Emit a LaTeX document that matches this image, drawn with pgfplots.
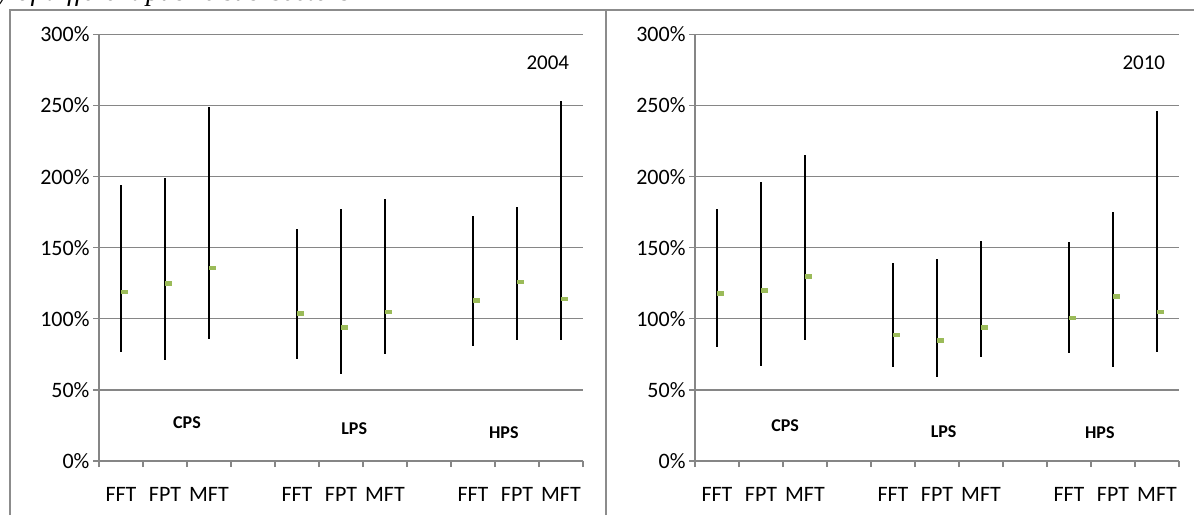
\documentclass[border=0pt]{standalone}
\usepackage{fontspec}
\setmainfont{Carlito}
\newfontfamily\captionfont{Liberation Serif}
\usepackage{pgfplots}
\pgfplotsset{compat=1.18}
\usepackage{pgfplotstable}
\definecolor{gridgray}{HTML}{868686}
\definecolor{framegray}{HTML}{8C8C8C}
\definecolor{xlgreen}{HTML}{9BBB59}

% columns: category position, low, high, mean
\pgfplotstableread{
x lo hi mid
0 77 194 119
1 71 199 125
2 86 249 136
4 72 163 104
5 61 177 94
6 75 184 105
8 81 172 113
9 85 179 126
10 85 253 114
}\dataA

\pgfplotstableread{
x lo hi mid
0 80 177 118
1 67 196 120
2 85 215 130
4 66 139 89
5 59 142 85
6 73 155 94
8 76 154 101
9 66 175 116
10 77 246 105
}\dataB

\newcommand{\tickfont}{\fontsize{22}{22}\selectfont}
\newcommand{\grpfont}{\bfseries\fontsize{18}{18}\selectfont}

\pgfplotsset{myaxis/.style={
  scale only axis, width=484pt, height=426.5pt,
  anchor=south west,
  xmin=-0.5, xmax=10.5, ymin=0, ymax=300,
  axis x line=bottom, axis y line=left,
  axis line style={gridgray, line width=1.2pt, -},
  ytick={0,50,...,300},
  yticklabels={0\%,50\%,100\%,150\%,200\%,250\%,300\%},
  ymajorgrids, grid style={gridgray, line width=1.2pt},
  xtick={-0.5,0.5,...,10.5}, xticklabels={},
  extra x ticks={0,1,2,4,5,6,8,9,10},
  extra x tick labels={FFT,FPT,MFT,FFT,FPT,MFT,FFT,FPT,MFT},
  extra x tick style={major tick length=0pt,
     xticklabel style={anchor=base, yshift=-40pt, font=\tickfont}},
  tick align=outside, major tick length=6pt,
  tick style={gridgray, line width=1.2pt},
  every tick label/.append style={font=\tickfont, text=black},
  yticklabel style={font=\tickfont, text=black},
  xticklabel style={font=\tickfont, text=black},
  clip=false,
}}

\newcommand{\rangeplots}[1]{%
  \addplot[only marks, mark=square*, mark size=1.9pt, color=xlgreen,
     mark options={draw=none, fill=xlgreen, xscale=1.6, yscale=0.9, xshift=2pt},
     error bars/.cd, y dir=both, y explicit, error mark=none,
     error bar style={draw=black, line width=2pt}]
     table[x=x, y=mid,
       y error plus expr=\thisrow{hi}-\thisrow{mid},
       y error minus expr=\thisrow{mid}-\thisrow{lo}] {#1};
}

\begin{document}
\begin{tikzpicture}[x=1pt,y=1pt]
\path[use as bounding box] (0,0) rectangle (1194,515);

% partial caption line at the top (cut off in the reference)
\node[anchor=base west, inner sep=0, font=\captionfont\itshape\fontsize{28}{28}\selectfont]
  at (-3,514) {y of different public sub-sectors};

% chart frames
\draw[framegray, line width=1.5pt] (10,0) -- (10,505) -- (1194,505);
\draw[framegray, line width=1.5pt] (606,0) -- (606,505);

\begin{axis}[myaxis, at={(99pt,54pt)}]
  \rangeplots{\dataA}
  \node[font=\fontsize{21}{21}\selectfont] at (axis cs:9.7,280) {2004};
  \node[font=\grpfont] at (axis cs:1.5,27) {CPS};
  \node[font=\grpfont] at (axis cs:5.3,22.5) {LPS};
  \node[font=\grpfont] at (axis cs:8.7,20) {HPS};
\end{axis}

\begin{axis}[myaxis, at={(695pt,54pt)}]
  \rangeplots{\dataB}
  \node[font=\fontsize{21}{21}\selectfont] at (axis cs:9.7,280) {2010};
  \node[font=\grpfont] at (axis cs:1.55,25) {CPS};
  \node[font=\grpfont] at (axis cs:5.15,20.5) {LPS};
  \node[font=\grpfont] at (axis cs:8.7,20) {HPS};
\end{axis}
\end{tikzpicture}
\end{document}
